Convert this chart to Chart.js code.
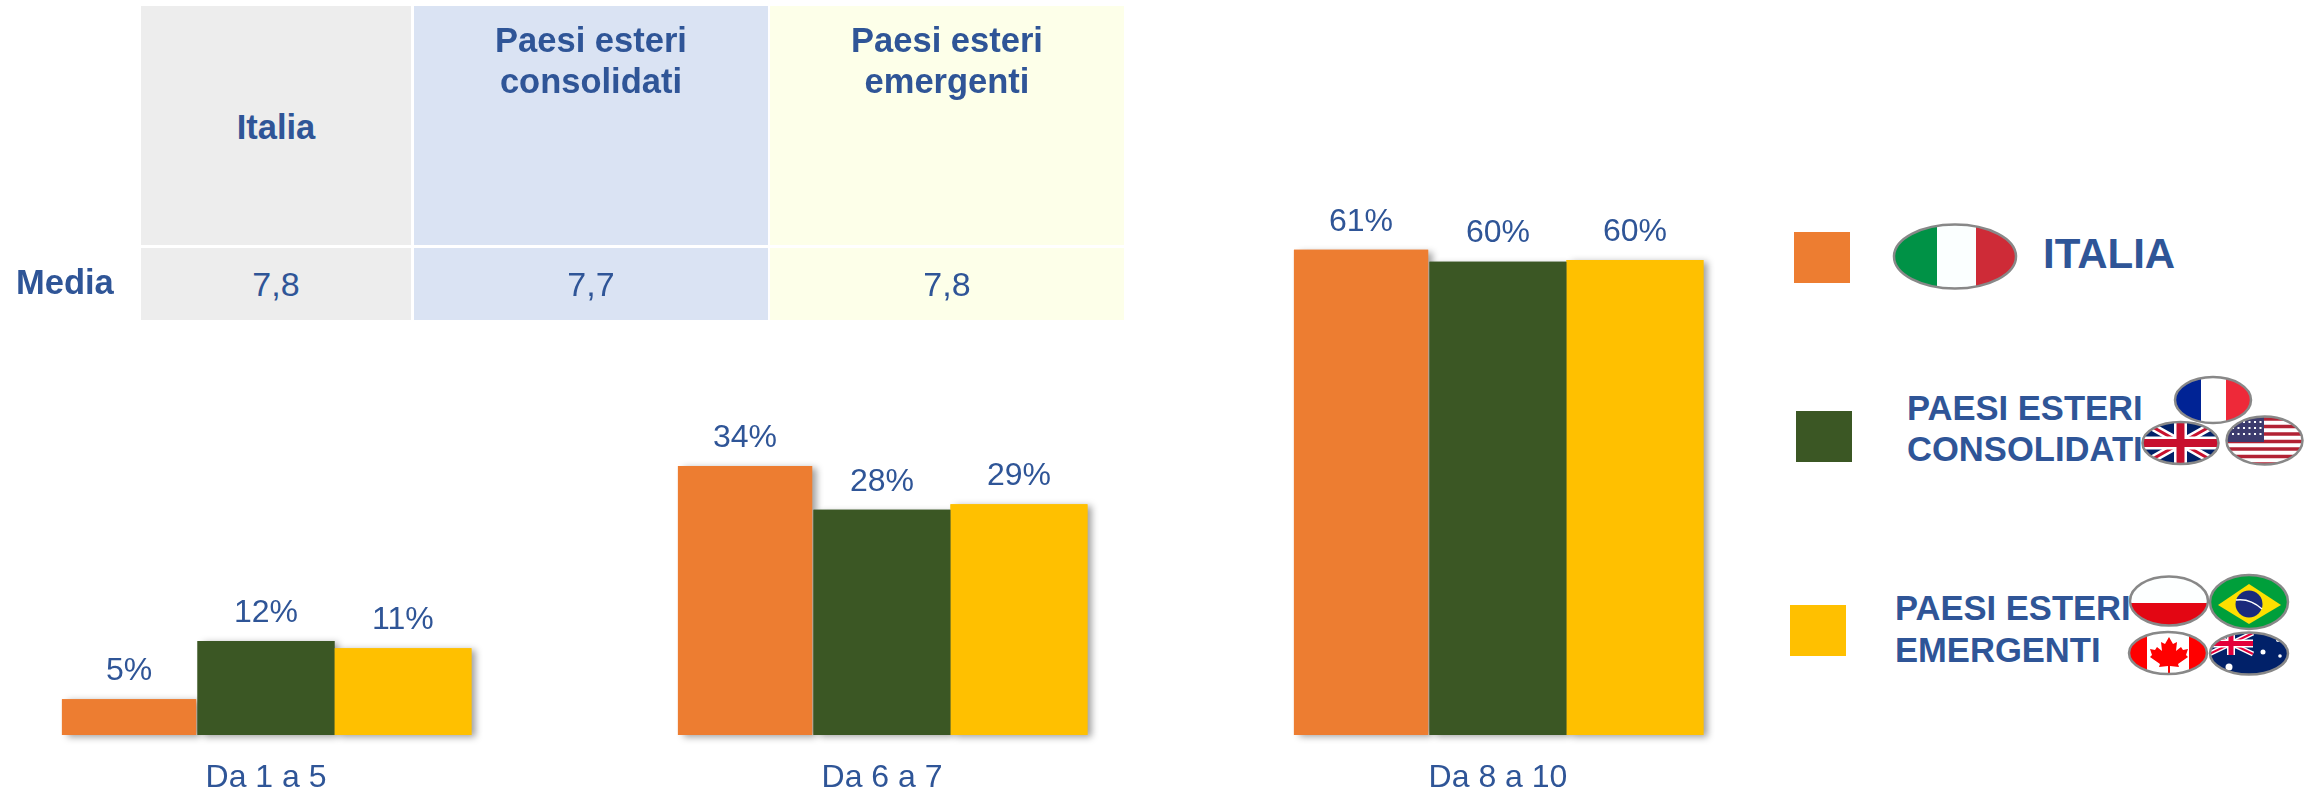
<!DOCTYPE html>
<html lang="it">
<head>
<meta charset="utf-8">
<title>Media</title>
<script src="https://cdn.jsdelivr.net/npm/chart.js@4"></script>
<style>
  html, body { margin: 0; padding: 0; background: #fff; width: 2304px; height: 790px; overflow: hidden; }
  body { font-family: "Liberation Sans", Arial, sans-serif; color: #2F5597; position: relative; }
  #chartBox { position: absolute; left: -42px; top: 0; width: 1848px; height: 790px; }
  .cell, .txt { position: absolute; display: flex; align-items: center; justify-content: center; text-align: center; box-sizing: border-box; }
  .head { font-size: 34.5px; font-weight: bold; line-height: 41px; }
  .val { font-size: 34px; }
  .txt { font-weight: bold; justify-content: flex-start; text-align: left; white-space: nowrap; }
  .swatch { position: absolute; width: 56px; height: 51px; }
  #flags { position: absolute; left: 0; top: 0; }
  #flags .rim { fill: none; stroke: #888; stroke-width: 2.5; }
</style>
</head>
<body>
<div id="chartBox"><canvas id="barChart"></canvas></div>

<div class="cell head" style="left:141px;top:6px;width:270px;height:239px;background:#EDEDED;padding-top:4px" id="h0"></div>
<div class="cell head" style="left:414px;top:6px;width:354px;height:239px;background:#DAE3F3;align-items:flex-start;padding-top:14px" id="h1"></div>
<div class="cell head" style="left:770px;top:6px;width:354px;height:239px;background:#FDFFE9;align-items:flex-start;padding-top:14px" id="h2"></div>
<div class="cell val" style="left:141px;top:248px;width:270px;height:72px;background:#EDEDED" id="m0"></div>
<div class="cell val" style="left:414px;top:248px;width:354px;height:72px;background:#DAE3F3" id="m1"></div>
<div class="cell val" style="left:770px;top:248px;width:354px;height:72px;background:#FDFFE9" id="m2"></div>
<div class="txt" style="left:16px;top:248px;height:68px;font-size:34.5px" id="mediaLabel"></div>

<div class="swatch" style="left:1794px;top:232px;background:#ED7D31"></div>
<div class="swatch" style="left:1796px;top:411px;background:#3B5724"></div>
<div class="swatch" style="left:1790px;top:605px;background:#FFC000"></div>
<div class="txt" style="left:2043px;top:229px;height:50px;font-size:42px" id="leg0"></div>
<div class="txt" style="left:1907px;top:388px;height:82px;font-size:34.6px;line-height:41px" id="leg1"></div>
<div class="txt" style="left:1895px;top:587px;height:84px;font-size:34.6px;line-height:42px" id="leg2"></div>

<svg id="flags" width="2304" height="790" xmlns="http://www.w3.org/2000/svg">
  <defs>
    <clipPath id="cIt"><ellipse cx="1955" cy="256.5" rx="61" ry="32"/></clipPath>
    <clipPath id="cFr"><ellipse cx="2213" cy="400" rx="38" ry="23"/></clipPath>
    <clipPath id="cUk"><ellipse cx="2180.5" cy="443" rx="38" ry="21"/></clipPath>
    <clipPath id="cUs"><ellipse cx="2264.5" cy="440.5" rx="38" ry="24"/></clipPath>
    <clipPath id="cPl"><ellipse cx="2169" cy="601" rx="39" ry="24.5"/></clipPath>
    <clipPath id="cBr"><ellipse cx="2249" cy="602" rx="39" ry="27"/></clipPath>
    <clipPath id="cCa"><ellipse cx="2168" cy="653" rx="39" ry="21"/></clipPath>
    <clipPath id="cAu"><ellipse cx="2249" cy="653.5" rx="39" ry="21"/></clipPath>
  </defs>
  <!-- Italia -->
  <g clip-path="url(#cIt)">
    <rect x="1894" y="224" width="43" height="65" fill="#009246"/>
    <rect x="1937" y="224" width="39" height="65" fill="#FBFFFF"/>
    <rect x="1976" y="224" width="40" height="65" fill="#CE2B37"/>
  </g>
  <ellipse class="rim" cx="1955" cy="256.5" rx="61" ry="32"/>
  <!-- Francia -->
  <g clip-path="url(#cFr)">
    <rect x="2175" y="377" width="26" height="46" fill="#002395"/>
    <rect x="2201" y="377" width="25" height="46" fill="#fff"/>
    <rect x="2226" y="377" width="25" height="46" fill="#EE2939"/>
  </g>
  <ellipse class="rim" cx="2213" cy="400" rx="38" ry="23"/>
  <!-- UK -->
  <g clip-path="url(#cUk)">
    <rect x="2142" y="421" width="78" height="44" fill="#012169"/>
    <path d="M2142 421 L2220 465 M2220 421 L2142 465" stroke="#fff" stroke-width="8"/>
    <path d="M2142 421 L2220 465 M2220 421 L2142 465" stroke="#C8102E" stroke-width="3"/>
    <path d="M2180.5 421 V465 M2142 443 H2220" stroke="#fff" stroke-width="13"/>
    <path d="M2180.5 421 V465 M2142 443 H2220" stroke="#C8102E" stroke-width="8"/>
  </g>
  <ellipse class="rim" cx="2180.5" cy="443" rx="38" ry="21"/>
  <!-- USA -->
  <g clip-path="url(#cUs)">
    <rect x="2226" y="416" width="78" height="49" fill="#fff"/>
    <path d="M2226 419 H2304 M2226 426.5 H2304 M2226 434 H2304 M2226 441.5 H2304 M2226 449 H2304 M2226 456.5 H2304 M2226 464 H2304" stroke="#B22234" stroke-width="3.7"/>
    <rect x="2226" y="416" width="38" height="26" fill="#3C3B6E"/>
    <path d="M2232 422 H2262 M2232 428 H2262 M2232 434 H2262" stroke="#fff" stroke-width="1.8" stroke-dasharray="2 3.5"/>
  </g>
  <ellipse class="rim" cx="2264.5" cy="440.5" rx="38" ry="24"/>
  <!-- Polonia -->
  <g clip-path="url(#cPl)">
    <rect x="2129" y="576" width="80" height="27" fill="#FDFFFF"/>
    <rect x="2129" y="603" width="80" height="24" fill="#E30613"/>
  </g>
  <ellipse class="rim" cx="2169" cy="601" rx="39" ry="24.5"/>
  <!-- Brasile -->
  <g clip-path="url(#cBr)">
    <rect x="2209" y="574" width="80" height="56" fill="#009F3B"/>
    <polygon points="2218,605 2249,584 2281,605 2249,624" fill="#FEDF00"/>
    <circle cx="2249" cy="604" r="13.5" fill="#1A2A7C"/>
    <path d="M2236 600 Q2250 598 2262 609" stroke="#fff" stroke-width="1.5" fill="none"/>
  </g>
  <ellipse class="rim" cx="2249" cy="602" rx="39" ry="27"/>
  <!-- Canada -->
  <g clip-path="url(#cCa)">
    <rect x="2128" y="631" width="80" height="44" fill="#fff"/>
    <rect x="2128" y="631" width="19" height="44" fill="#FF0000"/>
    <rect x="2189" y="631" width="19" height="44" fill="#FF0000"/>
    <polygon points="2169,637 2173,644 2177,642 2176,651 2181,647 2183,650 2188,649 2186,655 2188,657 2178,664 2179,667 2170,666 2170,674 2168,674 2168,666 2159,667 2160,664 2150,657 2152,655 2150,649 2155,650 2157,647 2162,651 2161,642 2165,644" fill="#FF0000"/>
  </g>
  <ellipse class="rim" cx="2168" cy="653" rx="39" ry="21"/>
  <!-- Australia -->
  <g clip-path="url(#cAu)">
    <rect x="2209" y="632" width="80" height="44" fill="#012169"/>
    <path d="M2209 633 L2253 654 M2253 633 L2209 654" stroke="#fff" stroke-width="5"/>
    <path d="M2209 633 L2253 654 M2253 633 L2209 654" stroke="#E4003A" stroke-width="2"/>
    <path d="M2231 632 V655 M2209 643.5 H2253" stroke="#fff" stroke-width="8"/>
    <path d="M2231 632 V655 M2209 643.5 H2253" stroke="#E4003A" stroke-width="5"/>
    <circle cx="2263" cy="652" r="2.5" fill="#fff"/>
    <circle cx="2278" cy="640" r="2" fill="#fff"/>
    <circle cx="2280" cy="656" r="1.8" fill="#fff"/>
    <circle cx="2229" cy="667" r="3.5" fill="#fff"/>
  </g>
  <ellipse class="rim" cx="2249" cy="653.5" rx="39" ry="21"/>
</svg>

<script>
// Chart data
const categories = ["Da 1 a 5", "Da 6 a 7", "Da 8 a 10"];
const italia = [4.5, 33.8, 61];
const consolidati = [11.8, 28.3, 59.5];
const emergenti = [10.9, 29, 59.7];
const italiaLabels = ["5%", "34%", "61%"];
const consolidatiLabels = ["12%", "28%", "60%"];
const emergentiLabels = ["11%", "29%", "60%"];

// Table and legend text
const groupHeads = ["Italia", "Paesi esteri<br>consolidati", "Paesi esteri<br>emergenti"];
const mediaValues = ["7,8", "7,7", "7,8"];
const legendTexts = ["ITALIA", "PAESI ESTERI<br>CONSOLIDATI", "PAESI ESTERI<br>EMERGENTI"];

groupHeads.forEach((t, i) => { document.getElementById("h" + i).innerHTML = t; });
mediaValues.forEach((t, i) => { document.getElementById("m" + i).textContent = t; });
legendTexts.forEach((t, i) => { document.getElementById("leg" + i).innerHTML = t; });
document.getElementById("mediaLabel").textContent = "Media";

// Percent labels over the bars
const barLabels = {
    id: "barLabels",
    afterDatasetsDraw(chart) {
        const c = chart.ctx;
        c.save();
        c.font = "32px 'Liberation Sans'";
        c.fillStyle = "#2F5597";
        c.textAlign = "center";
        c.textBaseline = "middle";
        chart.data.datasets.forEach((ds, i) => {
            chart.getDatasetMeta(i).data.forEach((bar, j) => {
                c.fillText(ds.pctLabels[j], bar.x, bar.y - 28);
            });
        });
        c.restore();
    }
};

// Shadow pass first, so the shadows sit behind every bar
const barShadow = {
    id: "barShadow",
    beforeDatasetsDraw(chart) {
        const c = chart.ctx;
        c.save();
        c.shadowColor = "rgba(0,0,0,0.38)";
        c.shadowBlur = 7;
        c.shadowOffsetX = 5;
        c.shadowOffsetY = 2;
        chart.data.datasets.forEach((ds, i) => {
            chart.getDatasetMeta(i).data.forEach(bar => bar.draw(c));
        });
        c.restore();
    }
};

new Chart(document.getElementById("barChart"), {
    type: "bar",
    data: {
        labels: categories,
        datasets: [
            { data: italia, pctLabels: italiaLabels, backgroundColor: "#ED7D31", barPercentage: 0.98 },
            { data: consolidati, pctLabels: consolidatiLabels, backgroundColor: "#3B5724", barPercentage: 1 },
            { data: emergenti, pctLabels: emergentiLabels, backgroundColor: "#FFC000", barPercentage: 1 }
        ]
    },
    options: {
        responsive: true,
        maintainAspectRatio: false,
        animation: false,
        layout: { padding: { top: 19, left: 0, right: 0, bottom: 0 } },
        plugins: { legend: { display: false }, tooltip: { enabled: false } },
        datasets: { bar: { categoryPercentage: 0.667 } },
        scales: {
            x: {
                grid: { display: false },
                border: { display: false },
                ticks: { color: "#2F5597", font: { family: "'Liberation Sans'", size: 32 }, padding: 16, maxRotation: 0 },
                afterFit(scale) { scale.height = 55; }
            },
            y: { display: false, min: 0, max: 90 }
        }
    },
    plugins: [barShadow, barLabels]
});
</script>
</body>
</html>
